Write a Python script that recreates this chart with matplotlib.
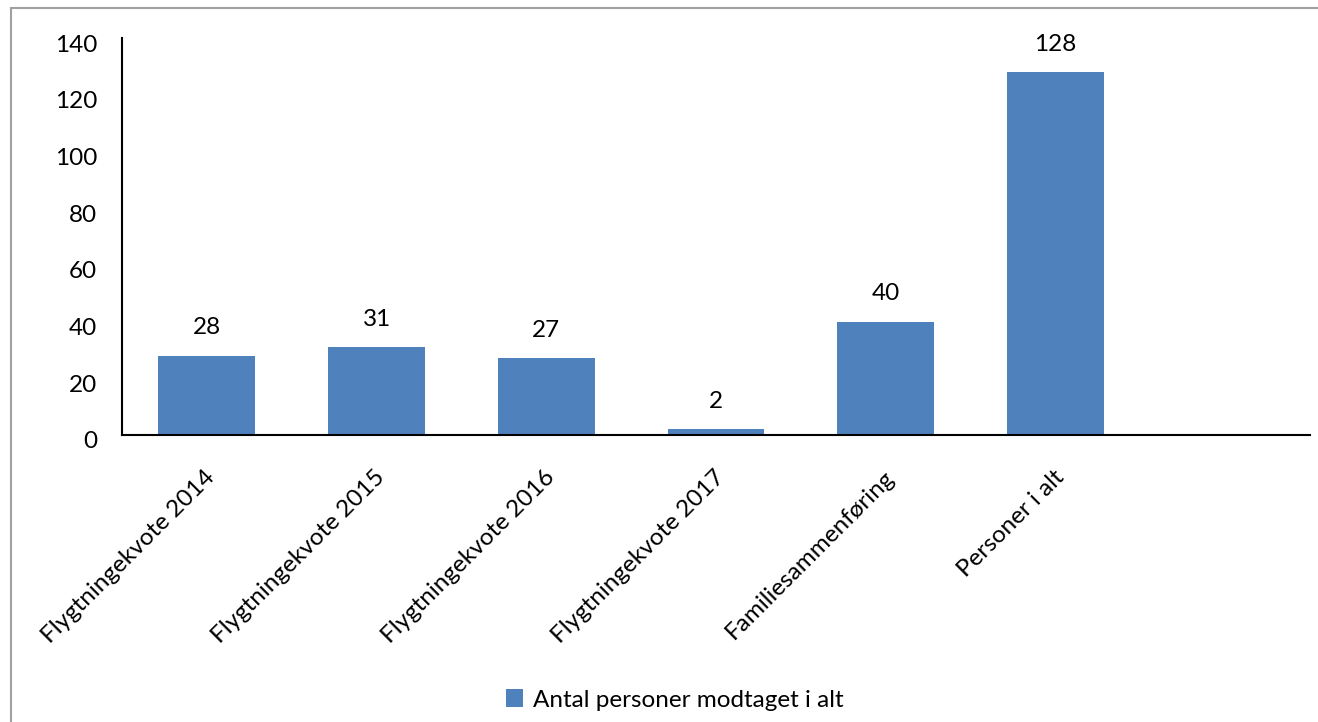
import matplotlib
import matplotlib.pyplot as plt
import matplotlib.transforms as mtransforms
from matplotlib.patches import Rectangle

matplotlib.use("Agg")

categories = ["Flygtningekvote 2014", "Flygtningekvote 2015", "Flygtningekvote 2016",
              "Flygtningekvote 2017", "Familiesammenføring", "Personer i alt", ""]
values = [28, 31, 27, 2, 40, 128]
series_name = "Antal personer modtaget i alt"
y_ticks = [0, 20, 40, 60, 80, 100, 120, 140]

plt.rcParams["font.family"] = ["Lato", "DejaVu Sans"]
FS = 17.5

fig = plt.figure(figsize=(13.18, 7.22), dpi=100)
ax = fig.add_axes([122 / 1318, 1 - 435 / 722, 1188 / 1318, 397 / 722])

bars = ax.bar(range(len(values)), values, width=0.57, color="#4F81BD", label=series_name)

for i, v in enumerate(values):
    ax.annotate(str(v), (i, v), xytext=(0, 20), textcoords="offset points",
                ha="center", va="center", fontsize=FS)

ax.set_xlim(-0.5, len(categories) - 0.5)
ax.set_ylim(0, 140)
ax.set_yticks(y_ticks)
ax.set_yticklabels([str(t) for t in y_ticks], fontsize=FS)
ax.set_xticks(range(len(categories)))
ax.set_xticklabels(categories, fontsize=FS, rotation=45, ha="right", va="center",
                   rotation_mode="anchor")
ax.tick_params(axis="y", length=0, pad=18)
ax.tick_params(axis="x", length=0, pad=28)

# Excel draws the value labels a little below the gridline positions
shift = mtransforms.ScaledTranslation(0, -5 / 100, fig.dpi_scale_trans)
for lbl in ax.get_yticklabels():
    lbl.set_transform(lbl.get_transform() + shift)
xshift = mtransforms.ScaledTranslation(5 / 100, 0, fig.dpi_scale_trans)
for lbl in ax.get_xticklabels():
    lbl.set_transform(lbl.get_transform() + xshift)

for side in ["top", "right"]:
    ax.spines[side].set_visible(False)
for side in ["left", "bottom"]:
    ax.spines[side].set_linewidth(1.5)
    ax.spines[side].set_color("black")

fig.legend(handles=[bars], labels=[series_name], loc="center",
           bbox_to_anchor=(675 / 1318, 1 - 700 / 722), frameon=False, fontsize=FS,
           handlelength=0.7, handleheight=0.7, handletextpad=0.4)

fig.patches.append(Rectangle((11 / 1318, -0.1), 1.2, 1.1 - 8 / 722, transform=fig.transFigure,
                             fill=False, edgecolor="#A0A0A0", linewidth=1.5))

fig.savefig("out.png", dpi=100)
